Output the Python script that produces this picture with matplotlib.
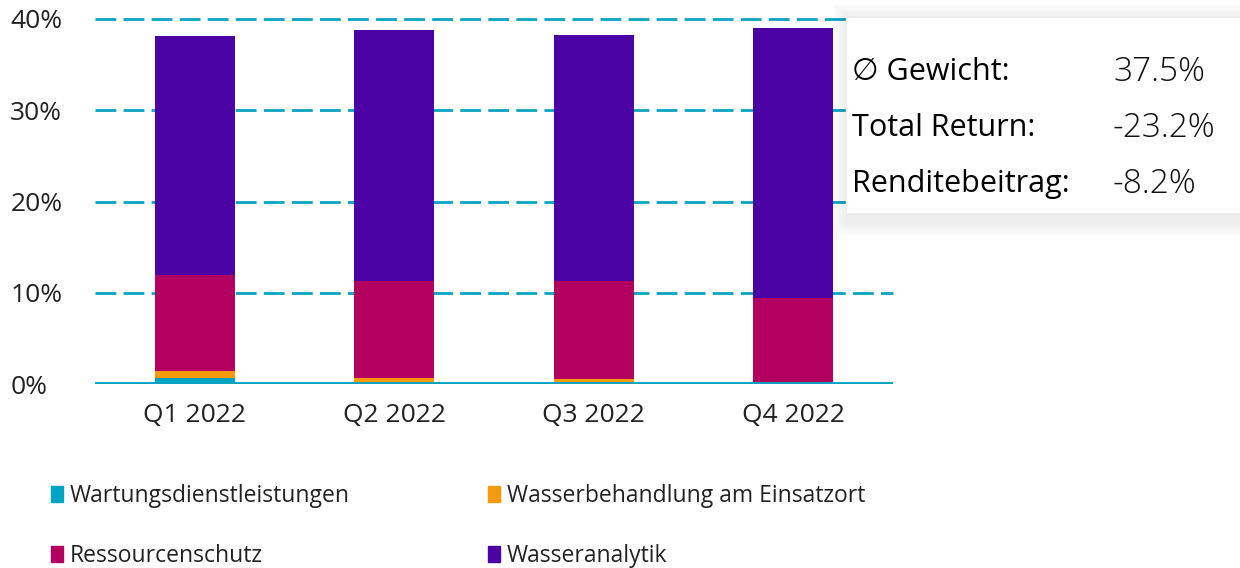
import numpy as np
import matplotlib.pyplot as plt
from matplotlib.patches import Rectangle, Patch

plt.rcParams['font.family'] = ['Open Sans', 'DejaVu Sans']

quarters = ['Q1 2022', 'Q2 2022', 'Q3 2022', 'Q4 2022']
series_names = ['Wartungsdienstleistungen', 'Wasserbehandlung am Einsatzort',
                'Ressourcenschutz', 'Wasseranalytik']
wartung = [0.7, 0.0, 0.0, 0.1]
behandlung = [0.7, 0.7, 0.6, 0.0]
ressourcen = [10.6, 10.6, 10.7, 9.3]
analytik = [26.1, 27.5, 26.9, 29.6]
colors = ['#00A3C2', '#F7990C', '#B30060', '#4B03A6']

stat_labels = ['\u2205 Gewicht:', 'Total Return:', 'Renditebeitrag:']
stat_values = ['37.5%', '-23.2%', '-8.2%']

fig = plt.figure(figsize=(12.4, 5.68), dpi=100)
ax = fig.add_axes([95 / 1240, 1 - 384 / 568, 798 / 1240, 365 / 568])

x = np.arange(len(quarters))
bottom = np.zeros(len(quarters))
for vals, c in zip([wartung, behandlung, ressourcen, analytik], colors):
    ax.bar(x, vals, bottom=bottom, width=0.40, color=c, zorder=3)
    bottom += np.array(vals)

ax.set_xlim(-0.5, 3.5)
ax.set_ylim(0, 40)
for v in [10, 20, 30, 40]:
    ax.axhline(v, color='#0AA3C2', lw=2, dashes=(7.5, 2.6), zorder=1, clip_on=False)
ax.axhline(0, color='#0AA3C2', lw=2.8, zorder=4)

ax.set_yticks([0, 10, 20, 30, 40])
ax.set_yticklabels(['0%', '10%', '20%', '30%', '40%'])
ax.set_xticks(x)
ax.set_xticklabels(quarters)
ax.tick_params(axis='both', length=0, labelsize=19, colors='#222222')
ax.tick_params(axis='x', pad=14)
ax.tick_params(axis='y', pad=61)
for lab in ax.get_yticklabels():
    lab.set_horizontalalignment('left')
for s in ax.spines.values():
    s.set_visible(False)

# stats box with soft shadow
W, H = 1240, 568
bx0, by0, bx1, by1 = 847, 18, 1240, 213
for i in range(6):
    g = 14 - i * 2.3
    fig.patches.append(Rectangle(((bx0 - g) / W, 1 - (by1 + g + 8) / H),
                                 (bx1 - bx0 + 2 * g) / W, (by1 - by0 + 2 * g + 8) / H,
                                 transform=fig.transFigure, color='black', alpha=0.012,
                                 lw=0, zorder=5))
fig.patches.append(Rectangle((bx0 / W, 1 - by1 / H), (bx1 - bx0) / W, (by1 - by0) / H,
                             transform=fig.transFigure, color='white', lw=0, zorder=6))
for i, (lab, val) in enumerate(zip(stat_labels, stat_values)):
    yy = 1 - (72 + i * 56) / H
    fig.text(852 / W, yy, lab, fontsize=22, va='center', ha='left', color='black', zorder=7)
    fig.text(1113 / W, yy, val, fontsize=24, va='center', ha='left', color='#111111',
             zorder=7, fontweight='light')

# legend fills column-wise, so reorder for row-wise reading
order = [0, 2, 1, 3]
handles = [Patch(color=colors[i]) for i in order]
labels = [series_names[i] for i in order]
fig.legend(handles, labels, ncol=2, loc='upper left',
           bbox_to_anchor=(30 / W, 1 - 463 / H), frameon=False, fontsize=16.5,
           handlelength=0.55, handleheight=0.7, handletextpad=0.3,
           columnspacing=6.0, labelspacing=1.58, labelcolor='#222222')

fig.savefig('out.png', dpi=100)
